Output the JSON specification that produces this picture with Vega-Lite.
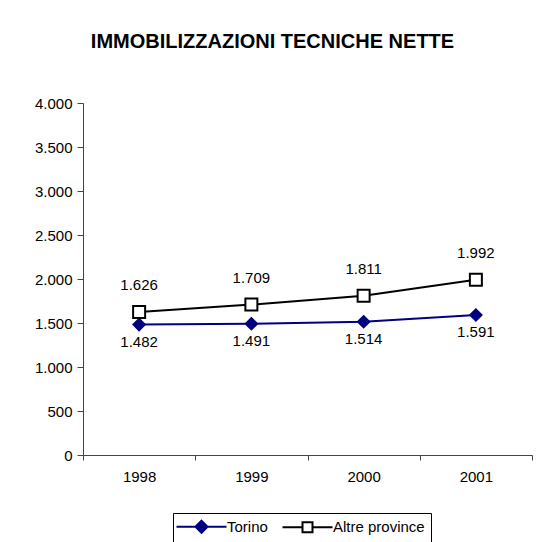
{
  "$schema": "https://vega.github.io/schema/vega-lite/v6.json",
  "autosize": "none",
  "width": 449,
  "height": 352,
  "padding": {"left": 83, "top": 103, "right": 8, "bottom": 87},
  "background": "white",
  "config": {
    "font": "Liberation Sans",
    "view": {"stroke": null},
    "locale": {"number": {"decimal": ",", "thousands": ".", "grouping": [3], "currency": ["€", ""]}},
    "axis": {"labelFont": "Liberation Sans", "labelFontSize": 15, "labelColor": "black", "domainColor": "#444", "tickColor": "#444", "grid": false, "title": null}
  },
  "title": {"text": "IMMOBILIZZAZIONI TECNICHE NETTE", "fontSize": 20, "fontWeight": "bold", "font": "Liberation Sans", "color": "black", "anchor": "middle", "frame": "group", "dx": -35, "offset": 44},
  "data": {"values": [
    {"anno": "1998", "serie": "Torino", "valore": 1482},
    {"anno": "1999", "serie": "Torino", "valore": 1491},
    {"anno": "2000", "serie": "Torino", "valore": 1514},
    {"anno": "2001", "serie": "Torino", "valore": 1591},
    {"anno": "1998", "serie": "Altre province", "valore": 1626},
    {"anno": "1999", "serie": "Altre province", "valore": 1709},
    {"anno": "2000", "serie": "Altre province", "valore": 1811},
    {"anno": "2001", "serie": "Altre province", "valore": 1992}
  ]},
  "encoding": {
    "x": {"field": "anno", "type": "ordinal", "scale": {"paddingInner": 0, "paddingOuter": 0},
      "axis": {"labelAngle": 0, "tickBand": "extent", "tickSize": 5, "labelPadding": 9}},
    "y": {"field": "valore", "type": "quantitative", "scale": {"domain": [0, 4000], "nice": false},
      "axis": {"values": [0, 500, 1000, 1500, 2000, 2500, 3000, 3500, 4000], "format": ",.0f", "tickSize": 6, "labelPadding": 5}}
  },
  "layer": [
    {
      "mark": {"type": "line", "strokeWidth": 2},
      "encoding": {
        "color": {"field": "serie", "type": "nominal", "sort": ["Torino", "Altre province"],
          "scale": {"domain": ["Torino", "Altre province"], "range": ["#000080", "#000000"]},
          "legend": {
            "title": null, "orient": "none", "legendX": 90, "legendY": 410, "direction": "horizontal", "columns": 2,
            "strokeColor": "black", "fillColor": "white", "padding": 6, "labelFontSize": 15, "labelFont": "Liberation Sans", "labelColor": "black",
            "symbolSize": 100, "symbolStrokeWidth": 2, "symbolOffset": 15, "labelOffset": 18, "columnPadding": 10,
            "encode": {"symbols": {"update": {
              "shape": {"signal": "datum.value == 'Torino' ? 'M-5,0H5M-1.2,0L0,-1.2L1.2,0L0,1.2Z' : 'M-5,0H-1M1,0H5M-1,-1H1V1H-1Z'"},
              "fill": {"signal": "datum.value == 'Torino' ? '#000080' : 'white'"},
              "stroke": {"signal": "datum.value == 'Torino' ? '#000080' : 'black'"},
              "strokeWidth": {"value": 2},
              "fillOpacity": {"value": 1},
              "opacity": {"value": 1}
            }}}
          }}
      }
    },
    {
      "transform": [{"filter": "datum.serie == 'Torino'"}],
      "mark": {"type": "point", "shape": "diamond", "filled": true, "color": "#000080", "size": 200, "opacity": 1}
    },
    {
      "transform": [{"filter": "datum.serie == 'Altre province'"}],
      "mark": {"type": "point", "shape": "square", "filled": true, "fill": "white", "stroke": "black", "strokeWidth": 2, "size": 144, "opacity": 1}
    },
    {
      "transform": [{"filter": "datum.serie == 'Torino'"}],
      "mark": {"type": "text", "dy": 17, "fontSize": 15, "color": "black", "font": "Liberation Sans"},
      "encoding": {"text": {"field": "valore", "type": "quantitative", "format": ",.0f"}}
    },
    {
      "transform": [{"filter": "datum.serie == 'Altre province'"}],
      "mark": {"type": "text", "dy": -27, "fontSize": 15, "color": "black", "font": "Liberation Sans"},
      "encoding": {"text": {"field": "valore", "type": "quantitative", "format": ",.0f"}}
    }
  ]
}
